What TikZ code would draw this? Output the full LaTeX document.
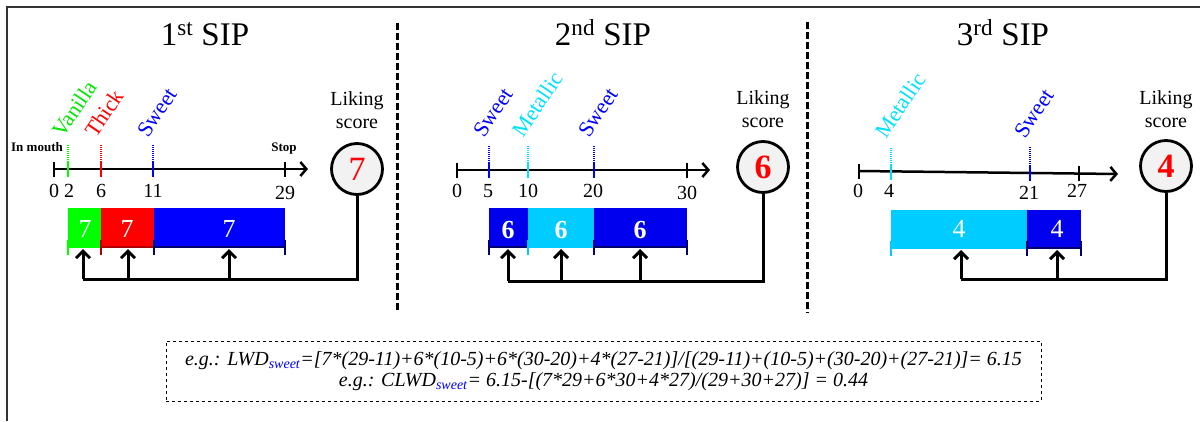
\documentclass[tikz,border=0pt]{standalone}
\usepackage{fontspec}
\setmainfont{Liberation Serif}
\usetikzlibrary{arrows.meta}
\definecolor{cgreen}{HTML}{00FF00}
\definecolor{tgreen}{HTML}{00E600}
\definecolor{cred}{HTML}{FF0000}
\definecolor{cblue}{HTML}{0000FF}
\definecolor{bblue}{HTML}{0000EE}
\definecolor{ccyan}{HTML}{00CCFF}
\definecolor{tcyan}{HTML}{00E0FF}
\definecolor{dred}{HTML}{B00000}
\definecolor{dblue}{HTML}{00006E}
\definecolor{circfill}{HTML}{F2F2F2}
\definecolor{framecol}{HTML}{333333}
\begin{document}
\begin{tikzpicture}[x=1pt,y=-1pt,
  frameline/.style={draw=framecol,line width=2.5pt},
  sep/.style={line width=3pt,dash pattern=on 7pt off 3pt},
  axisline/.style={line width=2.5pt,-{Straight Barb[length=6pt,width=14pt]}},
  blacktick/.style={line width=2pt},
  ctick/.style={line width=2.5pt},
  dotick/.style={line width=1.2pt,dash pattern=on 1pt off 1pt},
  axnum/.style={anchor=base,inner sep=0pt,font=\fontsize{20}{21}\selectfont},
  taste/.style={anchor=base west,rotate=56,inner sep=0pt,font=\fontsize{22}{23}\selectfont},
  sipttl/.style={anchor=base,inner sep=0pt,font=\fontsize{33}{36}\selectfont},
  liking/.style={anchor=base,inner sep=0pt,font=\fontsize{20}{23}\selectfont},
  score/.style={circle,draw,line width=2.8pt,fill=circfill,minimum size=51pt,inner sep=0pt,text=cred,font=\fontsize{34}{36}\selectfont},
  barnum/.style={text=white,inner sep=0pt,font=\fontsize{26}{28}\selectfont},
  bracket/.style={line width=2pt},
  conn/.style={line width=3pt},
  arr/.style={line width=3pt,-{Straight Barb[length=7pt,width=14pt]}},
  endlabel/.style={anchor=base,inner sep=0pt,font=\bfseries\fontsize{13}{14}\selectfont},
  formula/.style={draw,dashed,line width=0.8pt,minimum width=875pt,minimum height=60pt,align=center,inner sep=0pt,font=\itshape\fontsize{20}{21}\selectfont}
]
\useasboundingbox (0,0) rectangle (1200,421);
% frame
\draw[frameline] (1200,7) -- (7,7) -- (7,421);
% separators
\draw[sep] (397,23) -- (397,313);
\draw[sep] (807,22) -- (807,313);
% titles
\node[sipttl] (t1) at (205,45) {1\textsuperscript{st} SIP};
\node[sipttl] (t2) at (603,45) {2\textsuperscript{nd} SIP};
\node[sipttl] (t3) at (1003,45) {3\textsuperscript{rd} SIP};

%%%%%%%%%%%%%%%% panel 1
\coordinate (ax1s) at (54,169);
\coordinate (ax1e) at (308,169);
\draw[axisline] (ax1s) -- (ax1e);
\draw[blacktick] (54,162) -- (54,177);
\draw[blacktick] (285,162) -- (285,177);
\draw[ctick,cgreen] (68,162) -- (68,177);
\draw[dotick,cgreen] (68,162) -- (68,145);
\draw[ctick,cred] (101,162) -- (101,177);
\draw[dotick,cred] (101,162) -- (101,145);
\draw[ctick,cblue] (153,162) -- (153,177);
\draw[dotick,cblue] (153,162) -- (153,145);
\node[axnum] (n10) at (54,197) {0};
\node[axnum] (n12) at (69,197) {2};
\node[axnum] (n16) at (101,197) {6};
\node[axnum] (n111) at (153,197) {11};
\node[axnum] (n129) at (285,199) {29};
\node[endlabel] (im) at (37,151) {In mouth};
\node[endlabel] (st) at (284,151) {Stop};
\node[taste,text=tgreen] (l11) at (63,139) {Vanilla};
\node[taste,text=cred] (l12) at (96,139) {Thick};
\node[taste,text=cblue] (l13) at (148,139) {Sweet};
\node[liking] (lk1a) at (357,105) {Liking};
\node[liking] (lk1b) at (357,128) {score};
\node[score] (c1) at (357,169) {7};
% bars
\fill[cgreen] (68,208) rectangle (101,247);
\fill[cred] (101,208) rectangle (154,247);
\fill[cblue] (154,208) rectangle (285,247);
\draw[bracket,cgreen] (68,240) -- (68,255) (68,247) -- (101,247);
\draw[bracket,dred] (101,240) -- (101,255) (101,247) -- (154,247);
\draw[bracket,dblue] (154,240) -- (154,255) (154,247) -- (285,247) (285,240) -- (285,255);
\node[barnum] (b11) at (85,229) {7};
\node[barnum] (b12) at (127,229) {7};
\node[barnum] (b13) at (229,229) {7};
\coordinate (h11) at (83,279);
\coordinate (h12) at (128,279);
\coordinate (h13) at (229,279);
\draw[conn] (c1.south) |- (h11);
\draw[arr] (h11) -- ++(0,-30);
\draw[arr] (h12) -- ++(0,-30);
\draw[arr] (h13) -- ++(0,-30);

%%%%%%%%%%%%%%%% panel 2
\coordinate (ax2s) at (457,170);
\coordinate (ax2e) at (710,170);
\draw[axisline] (ax2s) -- (ax2e);
\draw[blacktick] (457,163) -- (457,178);
\draw[blacktick] (687,163) -- (687,178);
\draw[ctick,cblue] (489,163) -- (489,178);
\draw[dotick,cblue] (489,163) -- (489,145);
\draw[ctick,tcyan] (528,163) -- (528,178);
\draw[dotick,tcyan] (528,163) -- (528,145);
\draw[ctick,cblue] (594,163) -- (594,178);
\draw[dotick,cblue] (594,163) -- (594,145);
\node[axnum] (n20) at (457,197) {0};
\node[axnum] (n25) at (488,197) {5};
\node[axnum] (n210) at (528,197) {10};
\node[axnum] (n220) at (593,197) {20};
\node[axnum] (n230) at (687,199) {30};
\node[taste,text=cblue] (l21) at (484,139) {Sweet};
\node[taste,text=tcyan] (l22) at (523,139) {Metallic};
\node[taste,text=cblue] (l23) at (589,139) {Sweet};
\node[liking] (lk2a) at (763,104) {Liking};
\node[liking] (lk2b) at (763,127) {score};
\node[score,font=\bfseries\fontsize{34}{36}\selectfont] (c2) at (763,167) {6};
\fill[bblue] (489,208) rectangle (528,247);
\fill[ccyan] (528,208) rectangle (594,247);
\fill[bblue] (594,208) rectangle (687,247);
\draw[bracket,dblue] (489,240) -- (489,255) (489,247) -- (528,247);
\draw[bracket,ccyan] (528,240) -- (528,255) (528,247) -- (594,247);
\draw[bracket,dblue] (594,240) -- (594,255) (594,247) -- (687,247) (687,240) -- (687,255);
\node[barnum,font=\bfseries\fontsize{26}{28}\selectfont] (b21) at (508,230) {6};
\node[barnum,font=\bfseries\fontsize{26}{28}\selectfont] (b22) at (561,230) {6};
\node[barnum,font=\bfseries\fontsize{26}{28}\selectfont] (b23) at (640,230) {6};
\coordinate (h21) at (508,281);
\coordinate (h22) at (561,281);
\coordinate (h23) at (640,281);
\draw[conn] (c2.south) |- (h21);
\draw[arr] (h21) -- ++(0,-32);
\draw[arr] (h22) -- ++(0,-32);
\draw[arr] (h23) -- ++(0,-32);

%%%%%%%%%%%%%%%% panel 3
\coordinate (ax3s) at (859,171);
\coordinate (ax3e) at (1118,174);
\draw[axisline] (ax3s) -- (ax3e);
\draw[blacktick] (859,164) -- (859,179);
\draw[blacktick] (1079,166) -- (1079,181);
\draw[ctick,tcyan] (891,165) -- (891,180);
\draw[dotick,tcyan] (891,165) -- (891,147);
\draw[ctick,cblue] (1030,166) -- (1030,181);
\draw[dotick,cblue] (1030,166) -- (1030,147);
\node[axnum] (n30) at (858,197) {0};
\node[axnum] (n34) at (889,197) {4};
\node[axnum] (n321) at (1029,199) {21};
\node[axnum] (n327) at (1077,197) {27};
\node[taste,text=tcyan] (l31) at (886,140) {Metallic};
\node[taste,text=cblue] (l32) at (1025,140) {Sweet};
\node[liking] (lk3a) at (1166,104) {Liking};
\node[liking] (lk3b) at (1166,127) {score};
\node[score,font=\bfseries\fontsize{34}{36}\selectfont] (c3) at (1166,166) {4};
\fill[ccyan] (891,210) rectangle (1027,248);
\fill[bblue] (1027,210) rectangle (1081,248);
\draw[bracket,ccyan] (891,241) -- (891,256) (891,248) -- (1027,248);
\draw[bracket,dblue] (1027,241) -- (1027,256) (1027,248) -- (1081,248) (1081,241) -- (1081,256);
\node[barnum] (b31) at (959,229) {4};
\node[barnum] (b32) at (1057,229) {4};
\coordinate (h31) at (961,279);
\coordinate (h32) at (1057,279);
\draw[conn] (c3.south) |- (h31);
\draw[arr] (h31) -- ++(0,-29);
\draw[arr] (h32) -- ++(0,-29);

%%%%%%%%%%%%%%%% formula
\node[formula] (fm) at (603.5,371) {e.g.: LWD\textsubscript{\textcolor{cblue}{sweet}}=[7*(29-11)+6*(10-5)+6*(30-20)+4*(27-21)]/[(29-11)+(10-5)+(30-20)+(27-21)]= 6.15\\
e.g.: CLWD\textsubscript{\textcolor{cblue}{sweet}}= 6.15-[(7*29+6*30+4*27)/(29+30+27)] = 0.44};
\end{tikzpicture}
\end{document}
